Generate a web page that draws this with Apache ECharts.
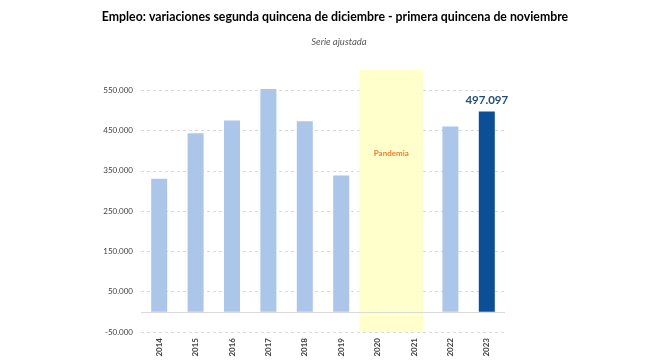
<!DOCTYPE html>
<html><head><meta charset="utf-8">
<script src="https://cdn.jsdelivr.net/npm/echarts@6/dist/echarts.min.js"></script>
<style>html,body{margin:0;padding:0;background:#fff}#c{width:650px;height:362px}</style>
</head><body><div id="c"></div>
<script>
var categories = ['2014','2015','2016','2017','2018','2019','2020','2021','2022','2023'];
var values = [330000, 443000, 475000, 553000, 473000, 338000, null, null, 460000, 497097];
var highlightYear = '2023';
var pandemicLabel = 'Pandemia';
var pandemicRange = [6, 7.75]; // in category-width units along the x axis
var yMin = -50000, yMax = 600000, yStep = 100000;

var FONT = 'Lato, "Open Sans", sans-serif';

function fmt(v){
  var s = Math.abs(v).toString().replace(/\B(?=(\d{3})+(?!\d))/g, '.');
  return (v < 0 ? '-' : '') + s;
}

var chart = echarts.init(document.getElementById('c'));
var barData = values.map(function(v, i){
  if (categories[i] === highlightYear) {
    return {value: v, itemStyle: {color: '#0b4f97'},
      label: {show: true, position: 'top', distance: 5, formatter: function(p){return fmt(p.value);},
        color: '#1f4e79', fontWeight: 'bold', fontSize: 11.5, fontFamily: FONT}};
  }
  return v;
});

chart.setOption({
  animation: false,
  title: [
    {text: 'Empleo: variaciones segunda quincena de diciembre - primera quincena de noviembre',
     left: 330, top: 6, textAlign: 'center',
     textStyle: {fontFamily: FONT, fontWeight: 'bold', fontSize: 12.3, color: '#000'}},
    {text: 'Serie ajustada', left: 334, top: 32, textAlign: 'center',
     textStyle: {fontFamily: FONT, fontStyle: 'italic', fontWeight: 'normal', fontSize: 9.5, color: '#595959'}}
  ],
  grid: {left: 141, right: 145, top: 70, bottom: 30, containLabel: false},
  xAxis: [
    {type: 'category', data: categories, position: 'bottom',
     axisLine: {show: false, onZero: false}, axisTick: {show: false},
     axisLabel: {rotate: 90, fontSize: 8, fontWeight: 'bold', color: '#404040', fontFamily: FONT, margin: 6}},
    {type: 'value', min: 0, max: categories.length, show: false}
  ],
  yAxis: {
    type: 'value', min: yMin, max: yMax, interval: yStep,
    axisLine: {show: false}, axisTick: {show: false},
    axisLabel: {formatter: fmt, fontSize: 8, color: '#404040', fontFamily: FONT, margin: 8, showMaxLabel: false},
    splitLine: {show: true, showMaxLine: false, lineStyle: {color: '#d9d9d9', type: [3, 3], width: 1}}
  },
  series: [
    {type: 'bar', xAxisIndex: 0, data: barData, barWidth: 16, z: 2,
     itemStyle: {color: '#abc6e9'},
     markLine: {silent: true, symbol: 'none', label: {show: false},
       lineStyle: {color: '#d9d9d9', type: 'solid', width: 1},
       data: [{yAxis: 0}]}},
    {type: 'line', xAxisIndex: 1, data: [], z: 3, clip: false,
     markArea: {silent: true,
       itemStyle: {color: '#ffffcc'},
       label: {show: true, position: 'insideTop', distance: 79, color: '#ed7d31', fontWeight: 'bold', fontSize: 8, fontFamily: FONT},
       data: [[{name: pandemicLabel, xAxis: pandemicRange[0], yAxis: yMax + 7000}, {xAxis: pandemicRange[1], yAxis: yMin - 8000}]]}}
  ]
});
</script></body></html>
